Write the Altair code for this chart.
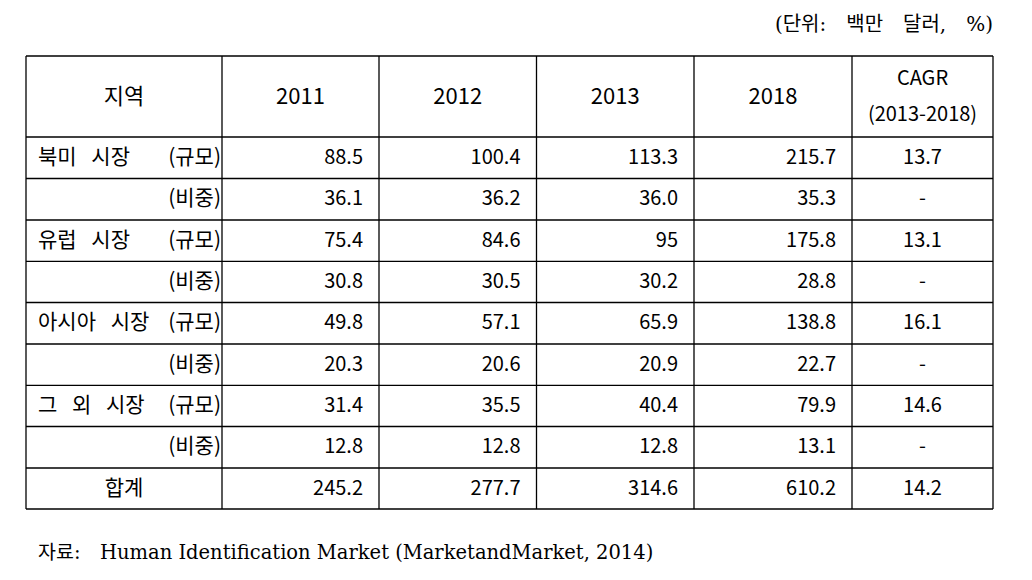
import altair as alt
import pandas as pd

SP = "\u2002\u2009"  # wide word space as typeset in the source table
regions = ["북미" + SP + "시장", "유럽" + SP + "시장", "아시아" + SP + "시장", "그" + SP + "외" + SP + "시장"]
years = ["2011", "2012", "2013", "2018"]
size_vals = [
    ["88.5", "100.4", "113.3", "215.7"],
    ["75.4", "84.6", "95", "175.8"],
    ["49.8", "57.1", "65.9", "138.8"],
    ["31.4", "35.5", "40.4", "79.9"],
]
share_vals = [
    ["36.1", "36.2", "36.0", "35.3"],
    ["30.8", "30.5", "30.2", "28.8"],
    ["20.3", "20.6", "20.9", "22.7"],
    ["12.8", "12.8", "12.8", "13.1"],
]
cagr_vals = ["13.7", "13.1", "16.1", "14.6"]
total_vals = ["245.2", "277.7", "314.6", "610.2"]
total_cagr = "14.2"
no_value = "-"
header_region = "지역"
cagr_header = ["CAGR", "(2013-2018)"]
size_tag = "(규모)"
share_tag = "(비중)"
total_label = "합계"
unit_note = "(단위:\u2003백만\u2003달러,\u2003%)"
source_note = "자료:\u2003Human Identification Market (MarketandMarket, 2014)"

# ---------------- layout (pixel grid of the page) ----------------
col_edges = [26, 222, 379, 536.5, 694, 852, 993]
row_edges = [56, 137, 178.5, 220, 261.3, 302.5, 344, 385.3, 426.5, 468, 509]
TABLE_FONT = "'Noto Sans CJK KR', 'Noto Sans', sans-serif"
NOTE_FONT = "'DejaVu Serif', 'Noto Sans CJK KR', serif"
BODY = 20
LABEL = 21
HEAD = 22

def mid(a, b):
    return (a + b) / 2

xs = alt.Scale(domain=[8, 1024], nice=False, zero=False)
ys = alt.Scale(domain=[8, 572], nice=False, zero=False, reverse=True)

# body rows
left_rows, right_rows, center_rows = [], [], []
for i, reg in enumerate(regions):
    for k, (tag, vals, cg) in enumerate([(size_tag, size_vals[i], cagr_vals[i]),
                                          (share_tag, share_vals[i], no_value)]):
        r = 1 + 2 * i + k
        yc = mid(row_edges[r], row_edges[r + 1])
        if k == 0:
            left_rows.append(dict(x=col_edges[0] + 12, y=yc, text=reg, size=LABEL))
        right_rows.append(dict(x=col_edges[1] - 1, y=yc, text=tag, size=LABEL))
        for c, v in enumerate(vals):
            right_rows.append(dict(x=col_edges[c + 2] - 16, y=yc, text=v, size=BODY))
        center_rows.append(dict(x=mid(col_edges[5], col_edges[6]), y=yc, text=cg, size=BODY))

yt = mid(row_edges[9], row_edges[10])
center_rows.append(dict(x=mid(col_edges[0], col_edges[1]), y=yt, text=total_label, size=LABEL))
for c, v in enumerate(total_vals):
    right_rows.append(dict(x=col_edges[c + 2] - 16, y=yt, text=v, size=BODY))
center_rows.append(dict(x=mid(col_edges[5], col_edges[6]), y=yt, text=total_cagr, size=BODY))

# header
yh = mid(row_edges[0], row_edges[1])
center_rows.append(dict(x=mid(col_edges[0], col_edges[1]), y=yh, text=header_region, size=HEAD))
for c, yr in enumerate(years):
    center_rows.append(dict(x=mid(col_edges[c + 1], col_edges[c + 2]), y=yh, text=yr, size=HEAD))
center_rows.append(dict(x=mid(col_edges[5], col_edges[6]), y=yh - 18, text=cagr_header[0], size=BODY))
center_rows.append(dict(x=mid(col_edges[5], col_edges[6]), y=yh + 18, text=cagr_header[1], size=BODY))

notes_right = [dict(x=col_edges[6], y=25, text=unit_note, size=20)]
notes_left = [dict(x=col_edges[0] + 12, y=553, text=source_note, size=19.5)]

hlines = pd.DataFrame([dict(y=y, x1=col_edges[0], x2=col_edges[-1]) for y in row_edges])
vlines = pd.DataFrame([dict(x=x, y1=row_edges[0], y2=row_edges[-1]) for x in col_edges])


def text_layer(rows, align, font):
    return alt.Chart(pd.DataFrame(rows)).mark_text(
        align=align, baseline="middle", font=font, color="black"
    ).encode(
        x=alt.X("x:Q", scale=xs, axis=None),
        y=alt.Y("y:Q", scale=ys, axis=None),
        text="text:N",
        size=alt.Size("size:Q", scale=None, legend=None),
    )


h_rule = alt.Chart(hlines).mark_rule(color="black", strokeWidth=1.3).encode(
    x=alt.X("x1:Q", scale=xs, axis=None), x2="x2:Q",
    y=alt.Y("y:Q", scale=ys, axis=None))
v_rule = alt.Chart(vlines).mark_rule(color="black", strokeWidth=1.3).encode(
    x=alt.X("x:Q", scale=xs, axis=None),
    y=alt.Y("y1:Q", scale=ys, axis=None), y2="y2:Q")

chart = alt.layer(
    h_rule, v_rule,
    text_layer(left_rows, "left", TABLE_FONT),
    text_layer(right_rows, "right", TABLE_FONT),
    text_layer(center_rows, "center", TABLE_FONT),
    text_layer(notes_right, "right", NOTE_FONT),
    text_layer(notes_left, "left", NOTE_FONT),
).properties(
    width=1016, height=564, padding=0, autosize="none", background="white"
).configure_view(stroke=None)

chart.save("out.html", embed_options={"renderer": "svg", "actions": False})
